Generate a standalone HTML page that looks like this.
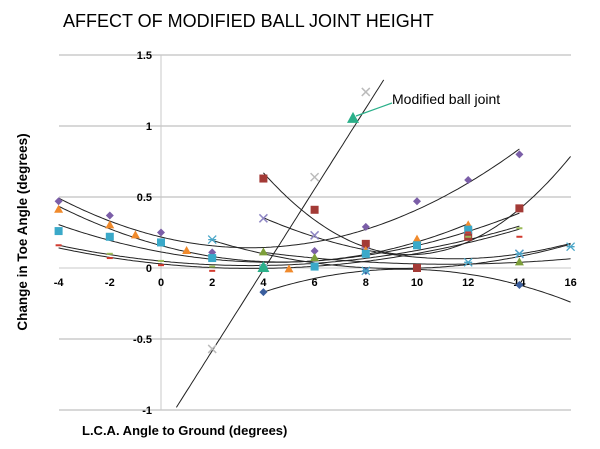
<!DOCTYPE html>
<html><head><meta charset="utf-8"><style>
body{margin:0;background:#fff}
svg{display:block;font-family:"Liberation Sans",sans-serif}
</style></head><body>
<svg id="c" width="600" height="449">
<text x="63" y="27" font-size="18" fill="#000">AFFECT OF MODIFIED BALL JOINT HEIGHT</text>
<text transform="translate(27,232) rotate(-90)" text-anchor="middle" font-size="13.5" font-weight="bold">Change in Toe Angle (degrees)</text>
<text x="82" y="435" font-size="13" font-weight="bold">L.C.A. Angle to Ground (degrees)</text>
<g id="grid"></g><g id="lines"></g><g id="marks"></g>
<line x1="392" y1="103" x2="356" y2="116" stroke="#2bb08a" stroke-width="1.2"/>
<text x="392" y="104" font-size="14">Modified ball joint</text>
</svg>
<script>
const xTicks=[-4,-2,0,2,4,6,8,10,12,14,16];
const yTicks=[-1,-0.5,0,0.5,1,1.5];
const purpleX=[-4,-2,0,2,6,8,10,12,14], purpleY=[0.47,0.37,0.25,0.11,0.12,0.29,0.47,0.62,0.80];
const redX=[4,6,8,10,12,14], redY=[0.63,0.41,0.17,0.0,0.22,0.42];
const lavX=[4,6,8,14], lavY=[0.35,0.23,0.12,0.1];
const orangeX=[-4,-2,-1,1,5,8,10,12], orangeY=[0.41,0.30,0.23,0.12,-0.01,0.12,0.20,0.30];
const cyanX=[-4,-2,0,2,4,6,8,10,12], cyanY=[0.26,0.22,0.18,0.07,0.0,0.01,0.1,0.16,0.27];
const greenX=[4,6,14], greenY=[0.11,0.07,0.04];
const modX=[2,4,6,8], modY=[-0.57,0.0,0.64,1.24];
const modBigX=[7.5], modBigY=[1.05];
const redDashX=[-4,-2,0,2,12,14], redDashY=[0.16,0.07,0.02,-0.02,0.25,0.22];
const greenDashX=[-2,0,2,12,14], greenDashY=[0.1,0.05,0.01,0.22,0.28];
const blueX=[4,8,14], blueY=[-0.17,-0.02,-0.12];
const starX=[2,8,12,14,16], starY=[0.2,-0.02,0.04,0.1,0.15];
const sx=v=>161+(v)*25.6, sy=v=>268-v*142;
const NS="http://www.w3.org/2000/svg";
function mk(t,a,p){const e=document.createElementNS(NS,t);for(const k in a)e.setAttribute(k,a[k]);p.appendChild(e);return e;}
const G=document.getElementById('grid'),L=document.getElementById('lines'),M=document.getElementById('marks');
yTicks.forEach(v=>{const l=mk('line',{x1:59,x2:571,y1:sy(v),y2:sy(v),stroke:v===0?'#c8c8c8':'#b0b0b0','stroke-width':1},G);

const t=mk('text',{x:152,y:sy(v)+4,'text-anchor':'end','font-size':11,'font-weight':'bold'},G);t.textContent=v;
});
const ax=mk('line',{x1:sx(0),x2:sx(0),y1:sy(1.5),y2:sy(-1),stroke:'#c8c8c8'},G);

xTicks.forEach(v=>{const t=mk('text',{x:sx(v),y:286,'text-anchor':'middle','font-size':11,'font-weight':'bold'},G);t.textContent=v;
});
function fit(X,Y){const n=X.length;if(n<3){const b=(Y[1]-Y[0])/(X[1]-X[0]);return [Y[0]-b*X[0],b,0];}
let S=[0,0,0,0,0],T=[0,0,0];for(let i=0;i<n;i++){let p=1;for(let k=0;k<5;k++){S[k]+=p;if(k<3)T[k]+=p*Y[i];p*=X[i];}}
const A=[[S[0],S[1],S[2],T[0]],[S[1],S[2],S[3],T[1]],[S[2],S[3],S[4],T[2]]];
for(let i=0;i<3;i++){for(let j=i+1;j<3;j++){const f=A[j][i]/A[i][i];for(let k=i;k<4;k++)A[j][k]-=f*A[i][k];}}
const c=[0,0,0];for(let i=2;i>=0;i--){let s=A[i][3];for(let k=i+1;k<3;k++)s-=A[i][k]*c[k];c[i]=s/A[i][i];}return c;}
function series(X,Y,name,col,shape,x0,x1,lin){
const c=lin?fit(X,Y).map((v,i)=>i==2?0:v):fit(X,Y);
let d='';for(let x=x0;x<=x1+1e-9;x+=0.1){let y=c[0]+c[1]*x+c[2]*x*x;if(y>1.5||y<-1)continue;d+=(d?'L':'M')+sx(x).toFixed(1)+' '+sy(y).toFixed(1);}
const p=mk('path',{d:d,fill:'none',stroke:'#222','stroke-width':1},L);

X.forEach((x,i)=>{const cx=sx(x),cy=sy(Y[i]);let e;
if(shape=='d')e=mk('path',{d:`M${cx} ${cy-4}L${cx+4} ${cy}L${cx} ${cy+4}L${cx-4} ${cy}Z`,fill:col},M);
else if(shape=='s')e=mk('rect',{x:cx-4,y:cy-4,width:8,height:8,fill:col},M);
else if(shape=='t')e=mk('path',{d:`M${cx} ${cy-5}L${cx+4.5} ${cy+3}L${cx-4.5} ${cy+3}Z`,fill:col},M);
else if(shape=='T')e=mk('path',{d:`M${cx} ${cy-7}L${cx+6} ${cy+4}L${cx-6} ${cy+4}Z`,fill:col},M);
else if(shape=='x')e=mk('path',{d:`M${cx-4} ${cy-4}L${cx+4} ${cy+4}M${cx+4} ${cy-4}L${cx-4} ${cy+4}`,stroke:col,'stroke-width':1.5},M);
else if(shape=='*')e=mk('path',{d:`M${cx-4} ${cy-4}L${cx+4} ${cy+4}M${cx+4} ${cy-4}L${cx-4} ${cy+4}M${cx-4} ${cy}L${cx+4} ${cy}`,stroke:col,'stroke-width':1.3},M);
else e=mk('rect',{x:cx-3,y:cy-1,width:6,height:2,fill:col},M);
});}
series(purpleX,purpleY,'purple-series','#7b5ea8','d',-4,14);
series(redX,redY,'red-series','#a33a36','s',4,16);
series(lavX,lavY,'lavender-series','#8f87c4','x',4,16);
series(orangeX,orangeY,'orange-series','#f08a2c','t',-4,12);
series(cyanX,cyanY,'cyan-series','#3aa9c9','s',-4,14);
series(greenX,greenY,'green-series','#7d9f3a','t',4,16);
series(modX,modY,'modified-series','#bbbbbb','x',-0.4,8.7,true);
series(modBigX.concat([4]),modBigY.concat([0.0]),'modified-highlight','#2bb08a','T',7.5,7.5,true);
series(redDashX,redDashY,'red-dash-series','#d23a2e','-',-4,14);
series(greenDashX,greenDashY,'green-dash-series','#9bbb59','-',-4,14);
series(blueX,blueY,'blue-series','#3a5e9e','d',4,16);
series(starX,starY,'star-series','#4aa6c8','*',2,16);
</script>
</body></html>
